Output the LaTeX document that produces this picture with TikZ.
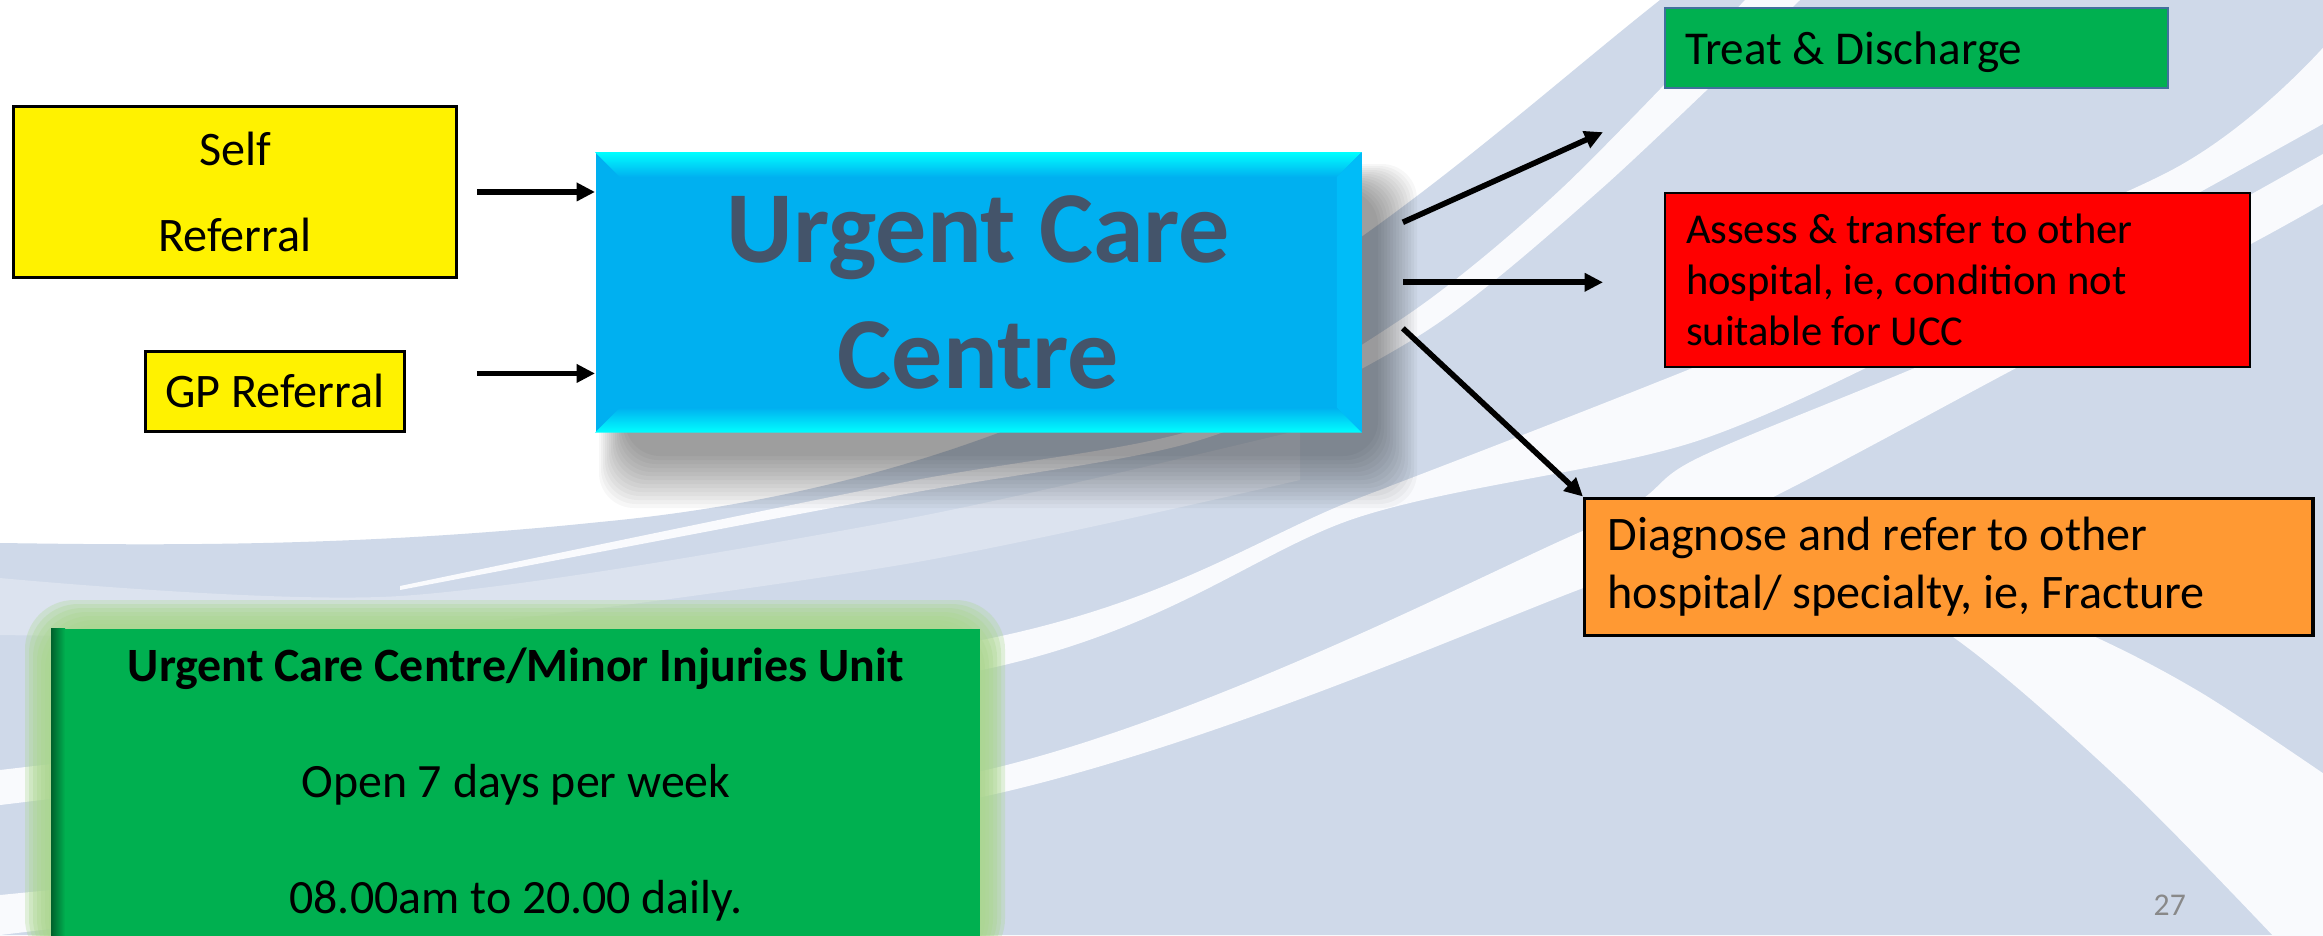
\documentclass[tikz,border=0pt]{standalone}
\usepackage{fontspec}
\setmainfont{Carlito}
\usetikzlibrary{positioning,calc,arrows.meta}

\definecolor{bgblue}{RGB}{207,217,233}
\definecolor{bgwhite}{RGB}{249,250,253}
\definecolor{bgpale}{RGB}{220,227,239}
\definecolor{uccblue}{RGB}{0,176,240}
\definecolor{uccside}{RGB}{0,188,248}
\definecolor{ucctext}{RGB}{68,84,106}
\definecolor{treatgreen}{RGB}{0,176,80}
\definecolor{treatline}{RGB}{65,113,156}
\definecolor{orangefill}{RGB}{255,153,51}
\definecolor{glowgreen}{RGB}{169,214,140}
\definecolor{pagegray}{RGB}{137,137,137}

\begin{document}
\begin{tikzpicture}[x=0.01cm, y=-0.01cm,
  refbox/.style={rectangle, draw=black, line width=0.8pt, fill=yellow, inner sep=0pt, align=center, anchor=north west, font=\fontsize{13.7}{24.7}\selectfont},
  outbox/.style={rectangle, draw=black, inner xsep=#1, inner ysep=0pt, align=flush left, anchor=north west},
  flow/.style={line width=1.6pt, -{Triangle[length=5.2pt,width=5pt]}}]

\clip (0,0) rectangle (2323,935);

%--sfondo della slide
\fill[white] (0,0) rectangle (2323,935);
\fill[bgblue] (1660,0) .. controls (1420,190) and (1150,470) .. (600,522) .. controls (350,548) and (150,545) .. (0,543) -- (0,935) -- (2323,935) -- (2323,0) -- cycle;
\fill[bgpale] plot[smooth] coordinates {(0,578) (400,596) (900,520) (1300,430)}
  -- plot[smooth] coordinates {(1300,480) (900,565) (400,630) (0,635)} -- cycle;
\fill[bgwhite] plot[smooth] coordinates {(400,590) (900,495) (1200,440) (1420,335) (1600,190) (1800,0)}
  -- plot[smooth] coordinates {(1745,0) (1560,190) (1400,320) (1200,428) (900,483) (400,586)} -- cycle;
\fill[bgwhite] plot[smooth] coordinates {(0,805) (982,670) (1359,517) (1700,440) (2000,300) (2330,120)}
  -- plot[smooth] coordinates {(2330,40) (2168,172) (1700,365) (1359,498) (982,640) (0,770)} -- cycle;
\fill[bgwhite] plot[smooth] coordinates {(0,935) (982,797) (1578,590) (1787,490) (2018,367) (2249,245) (2330,200)}
  -- plot[smooth] coordinates {(2330,150) (2000,330) (1700,457) (1578,533) (982,771) (0,895)} -- cycle;
\fill[bgwhite] plot[smooth] coordinates {(1720,510) (1943,630) (2120,780) (2277,940)}
  -- (2330,940) -- plot[smooth] coordinates {(2330,778) (2200,692) (2080,630) (1860,540) (1740,505)} -- cycle;

%--figura relativa al riquadro Urgent Care Centre
\coordinate (ucctl) at (595,152);
\foreach \k in {0,...,13}
  \fill[black, opacity=0.03, rounded corners=10] ($(ucctl)+(4+2*\k,12+2*\k)$) rectangle ($(ucctl)+(822-3*\k,356-4*\k)$);
\node [rectangle, fill=uccblue, inner sep=0pt, minimum width=7.65cm, minimum height=2.79cm, anchor=north west, align=center, text=ucctext, font=\bfseries\fontsize{29}{36}\selectfont] (ucc) at (ucctl)
	{Urgent Care\\Centre};
\shade[top color=cyan, bottom color=uccblue] (ucc.north west) -- (ucc.north east) -- ($(ucc.north east)+(-25,25)$) -- ($(ucc.north west)+(25,25)$) -- cycle;
\shade[top color=uccblue, bottom color=cyan] (ucc.south west) -- (ucc.south east) -- ($(ucc.south east)+(-25,-25)$) -- ($(ucc.south west)+(25,-25)$) -- cycle;
\fill[uccside] (ucc.north east) -- ($(ucc.north east)+(-25,25)$) -- ($(ucc.south east)+(-25,-25)$) -- (ucc.south east) -- cycle;

%--figura relativa ai riquadri di ingresso
\node [refbox, minimum width=4.43cm, minimum height=1.71cm] (self) at (12,105) {Self\\Referral};
\node [refbox, minimum width=2.59cm, minimum height=0.80cm] (gp) at (144,350) {GP Referral};

\draw[flow] ($(self.east)+(19,0)$) -- (ucc.west |- self.east);
\draw[flow] ($(gp.east)+(71,-18)$) coordinate (gpin) -- (ucc.west |- gpin);

%--figura relativa ai riquadri di uscita
\node [outbox=0.2cm, fill=treatgreen, draw=treatline, line width=0.6pt, text width=4.63cm, minimum height=0.80cm, text depth=0pt, font=\fontsize{13.4}{16}\selectfont] (treat) at (1664,7)
	{Treat \& Discharge};
\node [outbox=0.21cm, fill=red, line width=0.6pt, text width=5.43cm, minimum height=1.74cm, font=\fontsize{12.1}{14.5}\selectfont, below=1.03cm of treat.south west, anchor=north west] (assess)
	{Assess \& transfer to other\\hospital, ie, condition not\\suitable for UCC};
\node [outbox=0.23cm, fill=orangefill, line width=0.9pt, text width=6.82cm, minimum height=1.37cm, font=\fontsize{13.7}{16.5}\selectfont, below=1.28cm of assess.south west, anchor=north west, xshift=-0.81cm] (diagnose)
	{Diagnose and refer to other\\hospital/ specialty, ie, Fracture};

\draw[flow] ($(ucc.east)+(41,-70)$) -- ($(treat.south west)+(-61,43)$);
\draw[flow] ($(ucc.east)+(41,-10)$) coordinate (uccout) -- ($(assess.west |- uccout)+(-61,0)$);
\draw[flow] ($(ucc.east)+(41,36)$) -- (diagnose.north west);

%--figura relativa al riquadro Minor Injuries Unit
\coordinate (unittl) at (51,628);
\foreach \k in {0,...,6}
  \fill[glowgreen, opacity=0.3, rounded corners=14] ($(unittl)+(-26+4*\k,-28+4*\k)$) rectangle ($(unittl)+(954-4*\k,340)$);
\node [rectangle, fill=treatgreen, inner sep=0pt, minimum width=9.28cm, minimum height=3.3cm, anchor=north west] (unit) at (unittl) {};
\shade[left color=treatgreen!55!black, right color=treatgreen] (unit.north west) rectangle ($(unit.south west)+(14,0)$);
\node [below=0.19cm of unit.north, anchor=north, inner sep=0pt, align=center, font=\fontsize{13.6}{33}\selectfont] (unittext)
	{\textbf{Urgent Care Centre/Minor Injuries Unit}\\Open 7 days per week\\08.00am to 20.00 daily.};

\node [anchor=base west, inner sep=0pt, text=pagegray, font=\fontsize{9}{11}\selectfont] (pagenum) at (2153,915) {27};

\end{tikzpicture}
\end{document}
